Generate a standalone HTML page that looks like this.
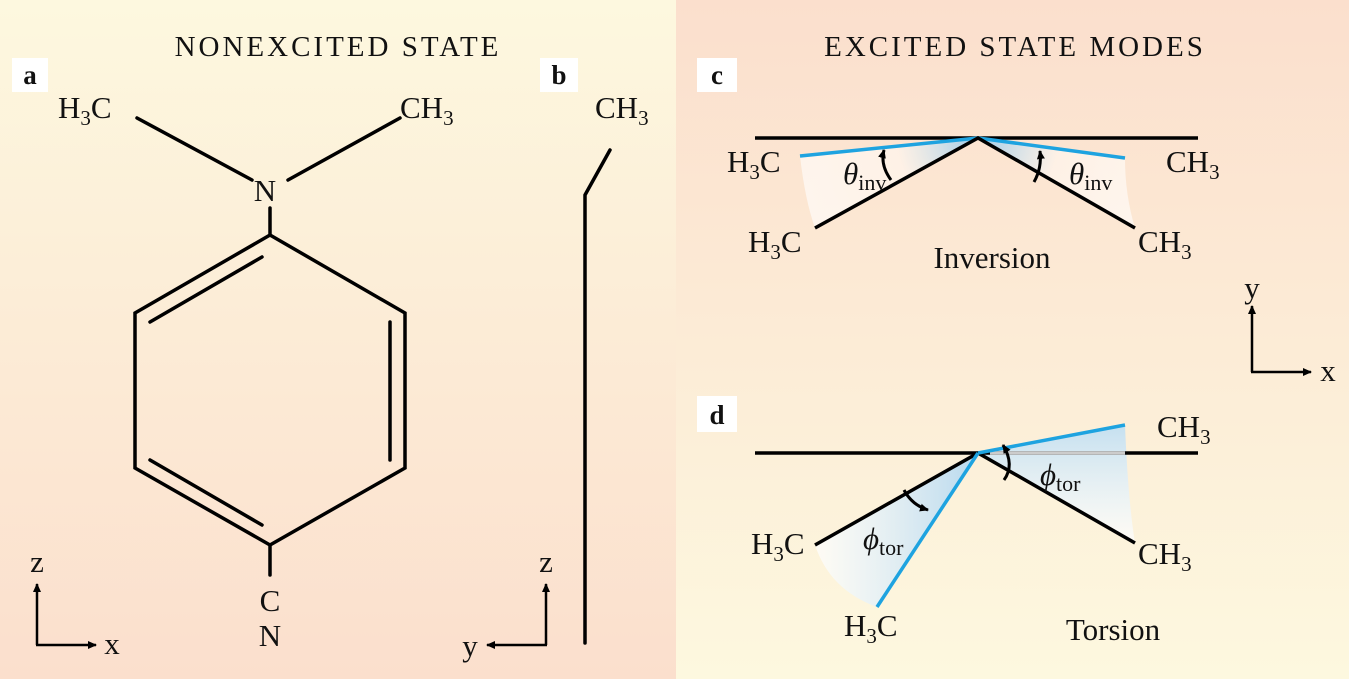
<!DOCTYPE html>
<html><head><meta charset="utf-8"><style>
html,body{margin:0;padding:0;width:1349px;height:679px;overflow:hidden}
svg{display:block}
text{font-family:"Liberation Serif",serif;fill:#111}
</style></head><body>
<svg width="1349" height="679" viewBox="0 0 1349 679" xmlns="http://www.w3.org/2000/svg">
<defs>
<linearGradient id="gl" x1="0" y1="0" x2="0" y2="1"><stop offset="0" stop-color="#fdf8df"/><stop offset="1" stop-color="#fbdfcd"/></linearGradient>
<linearGradient id="gr" x1="0" y1="0" x2="0" y2="1"><stop offset="0" stop-color="#fbdfcd"/><stop offset="1" stop-color="#fdf8df"/></linearGradient>
<radialGradient id="wedge" cx="978" cy="138" r="180" gradientUnits="userSpaceOnUse"><stop offset="0" stop-color="#9fcbe8"/><stop offset="0.45" stop-color="#fff6ee" stop-opacity="0.7"/><stop offset="1" stop-color="#fff" stop-opacity="0.6"/></radialGradient>
<linearGradient id="w2" x1="0" y1="0" x2="1" y2="0"><stop offset="0" stop-color="#fff" stop-opacity="0.7"/><stop offset="1" stop-color="#b8d9ee"/></linearGradient>
<linearGradient id="w3" x1="0" y1="1" x2="0" y2="0"><stop offset="0" stop-color="#fff" stop-opacity="0.7"/><stop offset="1" stop-color="#c5e0f0"/></linearGradient>
<marker id="ar" markerWidth="10" markerHeight="10" refX="8" refY="5" orient="auto" markerUnits="userSpaceOnUse"><path d="M0,1 L9,5 L0,9 Z" fill="#000"/></marker>
</defs>
<rect x="0" y="0" width="676" height="679" fill="url(#gl)"/>
<rect x="676" y="0" width="673" height="679" fill="url(#gr)"/>

<g font-size="29" letter-spacing="3" xml:space="preserve">
<text x="338" y="56" text-anchor="middle">NONEXCITED  STATE</text>
<text x="1015" y="56" text-anchor="middle">EXCITED  STATE MODES</text>
</g>
<rect x="12" y="58" width="36" height="34" fill="#fff"/><text x="30" y="84" font-size="27" font-weight="bold" text-anchor="middle">a</text>
<rect x="540" y="58" width="38" height="34" fill="#fff"/><text x="559" y="84" font-size="27" font-weight="bold" text-anchor="middle">b</text>
<rect x="697" y="58" width="40" height="34" fill="#fff"/><text x="717" y="84" font-size="27" font-weight="bold" text-anchor="middle">c</text>
<rect x="697" y="396" width="40" height="36" fill="#fff"/><text x="717" y="424" font-size="27" font-weight="bold" text-anchor="middle">d</text>

<g stroke="#000" stroke-width="3.5" fill="none" stroke-linecap="round">
<line x1="137" y1="118" x2="252" y2="180"/><line x1="400" y1="118" x2="288" y2="180"/>
<line x1="270" y1="208" x2="270" y2="235"/>
<polygon points="270,235 405,313 405,468 270,545 135,468 135,313"/>
<line x1="150" y1="322" x2="262" y2="257"/>
<line x1="390" y1="322" x2="390" y2="460"/>
<line x1="150" y1="460" x2="262" y2="525"/>
<line x1="270" y1="545" x2="270" y2="575"/>
<polyline points="585,643 585,195 610,150"/>
</g>
<g font-size="31">
<text x="58" y="118">H<tspan font-size="21" dy="7">3</tspan><tspan dy="-7">C</tspan></text>
<text x="400" y="118">CH<tspan font-size="21" dy="7">3</tspan></text>
<text x="265" y="201" text-anchor="middle">N</text>
<text x="270" y="611" text-anchor="middle">C</text>
<text x="270" y="646" text-anchor="middle">N</text>
<text x="595" y="118">CH<tspan font-size="21" dy="7">3</tspan></text>
<text x="37" y="572" text-anchor="middle">z</text>
<text x="112" y="654" text-anchor="middle">x</text>
<text x="546" y="572" text-anchor="middle">z</text>
<text x="470" y="656" text-anchor="middle">y</text>
<text x="1252" y="298" text-anchor="middle">y</text>
<text x="1328" y="381" text-anchor="middle">x</text>
</g>
<g stroke="#000" stroke-width="2.5" fill="none">
<line x1="37" y1="645" x2="37" y2="584" marker-end="url(#ar)"/>
<line x1="36" y1="645" x2="96" y2="645" marker-end="url(#ar)"/>
<line x1="546" y1="645" x2="546" y2="584" marker-end="url(#ar)"/>
<line x1="547" y1="645" x2="487" y2="645" marker-end="url(#ar)"/>
<line x1="1252" y1="372" x2="1252" y2="306" marker-end="url(#ar)"/>
<line x1="1251" y1="372" x2="1311" y2="372" marker-end="url(#ar)"/>
</g>

<!-- Inversion -->
<path d="M978,138 L800,156 Q805,200 815,228 Z" fill="url(#wedge)"/>
<path d="M978,138 L1125,158 Q1125,195 1135,228 Z" fill="url(#wedge)"/>
<line x1="755" y1="138" x2="1198" y2="138" stroke="#000" stroke-width="3.5"/>
<line x1="978" y1="138" x2="800" y2="156" stroke="#1ea3e0" stroke-width="3.5"/>
<line x1="978" y1="138" x2="1125" y2="158" stroke="#1ea3e0" stroke-width="3.5"/>
<polyline points="815,228 978,138 1135,228" fill="none" stroke="#000" stroke-width="3.5"/>
<path d="M891,180 Q880,165 884,150" fill="none" stroke="#000" stroke-width="3" marker-end="url(#ar)"/>
<path d="M1034,182 Q1042,168 1040,151" fill="none" stroke="#000" stroke-width="3" marker-end="url(#ar)"/>
<g font-size="31">
<text x="727" y="172">H<tspan font-size="21" dy="7">3</tspan><tspan dy="-7">C</tspan></text>
<text x="1166" y="172">CH<tspan font-size="21" dy="7">3</tspan></text>
<text x="748" y="252">H<tspan font-size="21" dy="7">3</tspan><tspan dy="-7">C</tspan></text>
<text x="1138" y="252">CH<tspan font-size="21" dy="7">3</tspan></text>
<text x="992" y="268" text-anchor="middle">Inversion</text>
<text x="843" y="184" font-style="italic">θ<tspan font-style="normal" font-size="22" dy="6">inv</tspan></text>
<text x="1069" y="184" font-style="italic">θ<tspan font-style="normal" font-size="22" dy="6">inv</tspan></text>
</g>

<!-- Torsion -->
<path d="M978,453 L815,545 Q830,590 877,607 Z" fill="url(#w2)"/>
<path d="M978,453 L1125,425 Q1128,500 1135,543 Z" fill="url(#w3)"/>
<line x1="755" y1="453" x2="1198" y2="453" stroke="#000" stroke-width="3.5"/>
<line x1="990" y1="453" x2="1125" y2="453" stroke="#ccc" stroke-width="3.5"/>
<polyline points="815,545 978,453 1135,543" fill="none" stroke="#000" stroke-width="3.5"/>
<line x1="978" y1="453" x2="1125" y2="425" stroke="#1ea3e0" stroke-width="3.5"/>
<line x1="978" y1="453" x2="877" y2="607" stroke="#1ea3e0" stroke-width="3.5"/>
<path d="M904,490 Q912,505 928,510" fill="none" stroke="#000" stroke-width="3" marker-end="url(#ar)"/>
<path d="M1004,480 Q1015,465 1003,445" fill="none" stroke="#000" stroke-width="3" marker-end="url(#ar)"/>
<g font-size="31">
<text x="751" y="554">H<tspan font-size="21" dy="7">3</tspan><tspan dy="-7">C</tspan></text>
<text x="844" y="636">H<tspan font-size="21" dy="7">3</tspan><tspan dy="-7">C</tspan></text>
<text x="1157" y="437">CH<tspan font-size="21" dy="7">3</tspan></text>
<text x="1138" y="564">CH<tspan font-size="21" dy="7">3</tspan></text>
<text x="1113" y="640" text-anchor="middle">Torsion</text>
<text x="863" y="549" font-style="italic">ϕ<tspan font-style="normal" font-size="22" dy="6">tor</tspan></text>
<text x="1040" y="485" font-style="italic">ϕ<tspan font-style="normal" font-size="22" dy="6">tor</tspan></text>
</g>
</svg>
</body></html>
